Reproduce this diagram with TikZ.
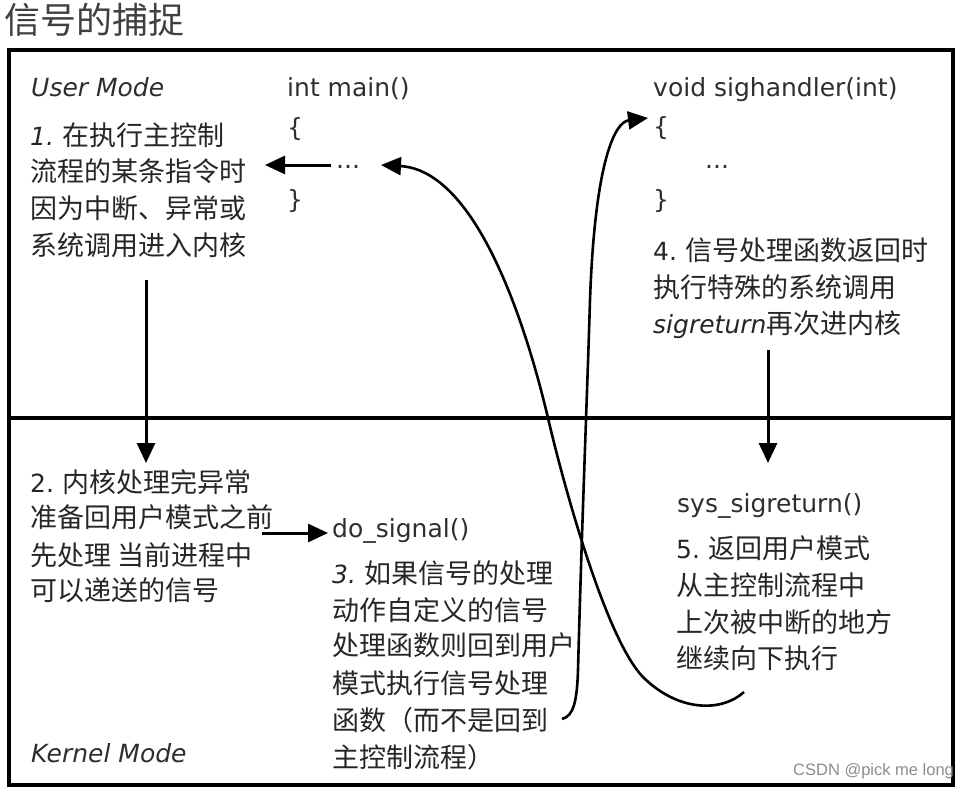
\documentclass[tikz,border=0pt]{standalone}
\usepackage{fontspec}
\setmainfont{DejaVu Sans}
\newfontfamily\dv{DejaVu Sans}
\newfontfamily\cjk{Noto Sans CJK SC}
\newfontfamily\wm{Liberation Sans}
\usetikzlibrary{arrows.meta}
\newcommand\latn[1]{{\dv\fontsize{25}{30}\selectfont #1}}
\begin{document}
\begin{tikzpicture}[x={(1pt,0)},y={(0,-1pt)},
  txt/.style={anchor=base west,inner sep=0pt,text=black!82,font=\dv\fontsize{25}{30}\selectfont},
  cj/.style={anchor=base west,inner sep=0pt,text=black!85,font=\cjk\fontsize{27}{32}\selectfont},
  frame/.style={line width=3.2pt,black},
  tip/.style={-{Triangle[length=20pt,width=18pt]}},
  arr/.style={line width=3pt,tip},
  crv/.style={line width=2.6pt,tip}]
\useasboundingbox (0,0) rectangle (972,787);
% title
\node[anchor=base west,inner sep=0pt,text=black!75,font=\cjk\fontsize{36}{40}\selectfont] (title) at (4,34) {信号的捕捉};
% frame
\draw[frame] (9,50) rectangle (953,785);
\draw[frame] (9,418) -- (953,418);
% user mode
\node[txt,font=\dv\itshape\fontsize{25}{30}\selectfont] (um) at (31,96) {User Mode};
\node[txt] (main) at (287,96) {int main()};
\node[txt] (lb1) at (287,136) {\{};
\node[txt] (dots1) at (336,168) {...};
\node[txt] (rb1) at (287,208) {\}};
\node[cj] (s1a) at (30,145) {\latn{\itshape 1.} 在执行主控制};
\node[cj] (s1b) at (30,181) {流程的某条指令时};
\node[cj] (s1c) at (30,218) {因为中断、异常或};
\node[cj] (s1d) at (30,255) {系统调用进入内核};
\node[txt] (sh) at (653,96) {void sighandler(int)};
\node[txt] (lb2) at (653,135) {\{};
\node[txt] (dots2) at (705,168) {...};
\node[txt] (rb2) at (653,208) {\}};
\node[cj] (s4a) at (653,260) {\latn{4.} 信号处理函数返回时};
\node[cj] (s4b) at (653,297) {执行特殊的系统调用};
\node[cj] (s4c) at (653,333) {\latn{\itshape sigreturn}再次进内核};
% kernel mode
\node[cj] (s2a) at (30,492) {\latn{2.} 内核处理完异常};
\node[cj] (s2b) at (30,527) {准备回用户模式之前};
\node[cj] (s2c) at (30,565) {先处理 当前进程中};
\node[cj] (s2d) at (30,600) {可以递送的信号};
\node[txt,font=\dv\itshape\fontsize{25}{30}\selectfont] (km) at (31,762) {Kernel Mode};
\node[txt] (dosig) at (332,537) {do\_signal()};
\node[cj] (s3a) at (332,583) {\latn{\itshape 3.} 如果信号的处理};
\node[cj] (s3b) at (332,620) {动作自定义的信号};
\node[cj] (s3c) at (332,655) {处理函数则回到用户};
\node[cj] (s3d) at (332,693) {模式执行信号处理};
\node[cj] (s3e) at (332,730) {函数（而不是回到};
\node[cj] (s3f) at (332,767) {主控制流程）};
\node[txt] (sysret) at (677,512) {sys\_sigreturn()};
\node[cj] (s5a) at (676,558) {\latn{5.} 返回用户模式};
\node[cj] (s5b) at (676,595) {从主控制流程中};
\node[cj] (s5c) at (676,632) {上次被中断的地方};
\node[cj] (s5d) at (676,668) {继续向下执行};
% connector ends
\coordinate (a1s) at (331,165);
\coordinate (a1e) at (265,165);
\coordinate (a2s) at (146,280);
\coordinate (a2e) at (146,463);
\coordinate (a3s) at (262,533);
\coordinate (a3e) at (328,533);
\coordinate (a4s) at (768,350);
\coordinate (a4e) at (768,463);
\coordinate (c1s) at (744,692);
\coordinate (c1e) at (381,165);
\coordinate (c2s) at (562,719);
\coordinate (c2e) at (648,118);
% arrows
\draw[arr] (a1s) -- (a1e);
\draw[arr] (a2s) -- (a2e);
\draw[arr] (a3s) -- (a3e);
\draw[arr] (a4s) -- (a4e);
\draw[crv] (c1s) .. controls (722,712) and (680,712) .. (645,679)
  .. controls (605,642) and (560,470) .. (548,418)
  .. controls (520,300) and (470,170) .. (c1e);
\draw[crv] (c2s) .. controls (574,716) and (577,700) .. (578,670)
  .. controls (582,520) and (587,400) .. (590,300)
  .. controls (595,160) and (615,122) .. (c2e);
% watermark
\node[anchor=base west,inner sep=0pt,text=black!45,font=\wm\fontsize{16.5}{18}\selectfont] (wmk) at (793,775) {CSDN @pick me long};
\end{tikzpicture}
\end{document}
